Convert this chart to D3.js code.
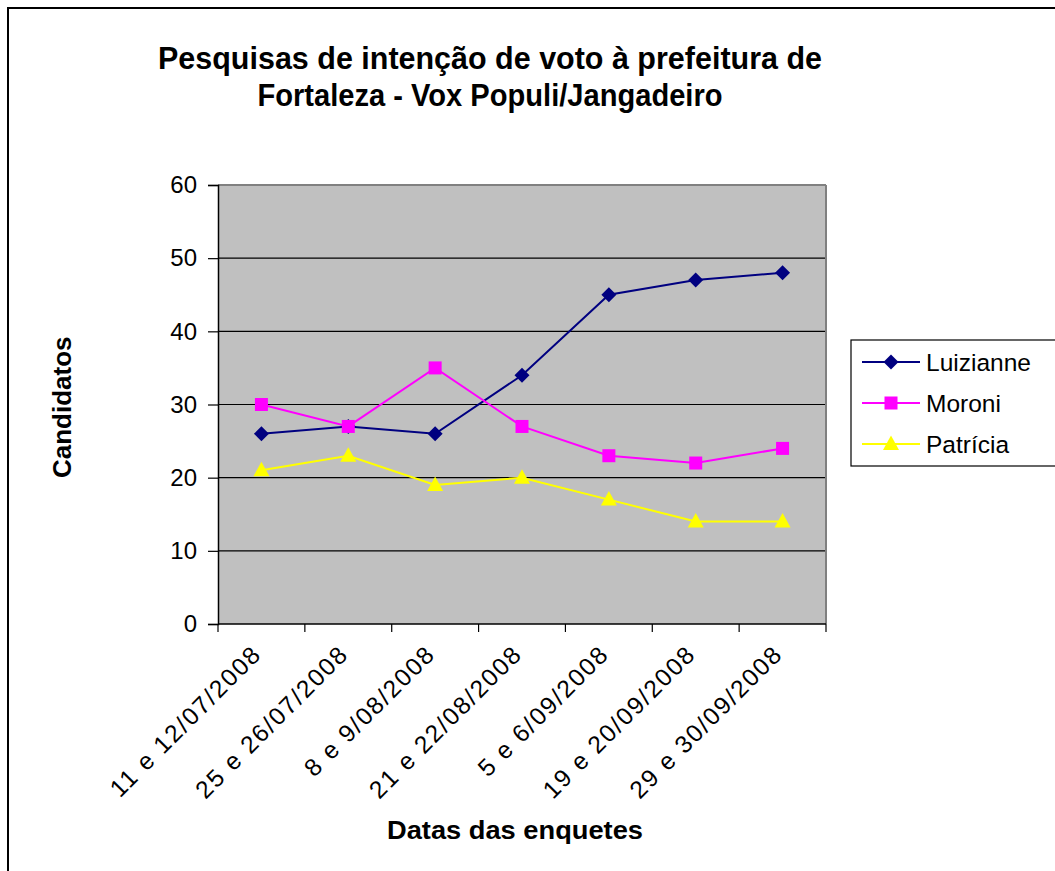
<!DOCTYPE html>
<html><head><meta charset="utf-8">
<script src="https://cdn.jsdelivr.net/npm/d3@7"></script>
<style>body{margin:0;background:#fff}svg{display:block}text{font-family:"Liberation Sans",Arial,sans-serif}</style>
</head><body>
<script>
const categories = ["11 e 12/07/2008","25 e 26/07/2008","8 e 9/08/2008","21 e 22/08/2008","5 e 6/09/2008","19 e 20/09/2008","29 e 30/09/2008"];
const luizianne = [26,27,26,34,45,47,48];
const moroni = [30,27,35,27,23,22,24];
const patricia = [21,23,19,20,17,14,14];
const yTicks = [0,10,20,30,40,50,60];
const seriesNames = ["Luizianne","Moroni","Patrícia"];
const titleLines = ["Pesquisas de intenção de voto à prefeitura de","Fortaleza - Vox Populi/Jangadeiro"];

const W=1055,H=871;
const svg=d3.select("body").append("svg").attr("width",W).attr("height",H);
svg.append("rect").attr("width",W).attr("height",H).attr("fill","#fff");
svg.append("path").attr("d",`M8,${H+5}V8H${W+5}`).attr("fill","none").attr("stroke","#000").attr("stroke-width",2);

const L=218,R=826,T=185,B=624;
const x=d3.scaleBand().domain(categories).range([L,R]);
const y=d3.scaleLinear().domain([0,60]).range([B,T]);

svg.append("rect").attr("x",L).attr("y",T).attr("width",R-L).attr("height",B-T).attr("fill","#c0c0c0");
svg.append("g").selectAll("line").data(yTicks.filter(v=>v>0&&v<60)).join("line")
 .attr("x1",L).attr("x2",R).attr("y1",d=>y(d)).attr("y2",d=>y(d)).attr("stroke","#000").attr("stroke-width",1.2);
svg.append("line").attr("x1",L).attr("x2",R).attr("y1",T).attr("y2",T).attr("stroke","#808080").attr("stroke-width",2);
svg.append("line").attr("x1",R).attr("x2",R).attr("y1",T).attr("y2",B).attr("stroke","#808080").attr("stroke-width",2);

const yAxis=svg.append("g").attr("transform",`translate(${L},0)`)
 .call(d3.axisLeft(y).tickValues(yTicks).tickSize(10).tickPadding(11));
yAxis.select(".domain").attr("stroke","#000").attr("stroke-width",1.5);
yAxis.selectAll(".tick line").attr("stroke","#000").attr("stroke-width",1.2);
yAxis.selectAll("text").attr("font-size",24).attr("fill","#000").attr("font-family","Liberation Sans, Arial, sans-serif");

const xTickPos=categories.map(c=>x(c)).concat([R]);
const xg=svg.append("g");
xg.append("line").attr("x1",L).attr("x2",R).attr("y1",B).attr("y2",B).attr("stroke","#000").attr("stroke-width",1.5);
xg.selectAll("line.t").data(xTickPos).join("line").attr("class","t")
 .attr("x1",d=>d).attr("x2",d=>d).attr("y1",B).attr("y2",B+8).attr("stroke","#000").attr("stroke-width",1.2);
xg.selectAll("text").data(categories).join("text")
 .attr("transform",d=>`translate(${x(d)+x.bandwidth()/2-3},${B+27}) rotate(-45)`)
 .attr("text-anchor","end").attr("dominant-baseline","middle").attr("font-size",24.5).attr("letter-spacing",1.8).attr("fill","#000").text(d=>d);

const series=[
 {name:seriesNames[0],values:luizianne,color:"#000080",shape:"diamond"},
 {name:seriesNames[1],values:moroni,color:"#ff00ff",shape:"square"},
 {name:seriesNames[2],values:patricia,color:"#ffff00",shape:"triangle"}];
const cx=c=>x(c)+x.bandwidth()/2;
const line=d3.line().x((d,i)=>cx(categories[i])).y(d=>y(d));
function marker(g,shape,color,px,py){
  if(shape==="diamond") g.append("path").attr("d",`M${px},${py-7.5}L${px+7.5},${py}L${px},${py+7.5}L${px-7.5},${py}Z`).attr("fill",color);
  else if(shape==="square") g.append("rect").attr("x",px-6.5).attr("y",py-6.5).attr("width",13).attr("height",13).attr("fill",color);
  else g.append("path").attr("d",`M${px},${py-8.5}L${px+8},${py+6}L${px-8},${py+6}Z`).attr("fill",color);
}
series.forEach(s=>{
  const g=svg.append("g");
  g.append("path").datum(s.values).attr("d",line).attr("fill","none").attr("stroke",s.color).attr("stroke-width",2);
  s.values.forEach((v,i)=>marker(g,s.shape,s.color,cx(categories[i]),y(v)));
});

const lg=svg.append("g");
lg.append("rect").attr("x",851).attr("y",340).attr("width",210).attr("height",126).attr("fill","#fff").attr("stroke","#000").attr("stroke-width",1.2);
series.forEach((s,i)=>{
  const ly=362+i*41;
  lg.append("line").attr("x1",862).attr("x2",920).attr("y1",ly).attr("y2",ly).attr("stroke",s.color).attr("stroke-width",2);
  marker(lg,s.shape,s.color,891,ly);
  lg.append("text").attr("x",926).attr("y",ly).attr("dominant-baseline","central").attr("font-size",24.5).attr("fill","#000").text(s.name);
});

titleLines.forEach((t,i)=>{
  svg.append("text").attr("x",490).attr("y",69+i*37).attr("text-anchor","middle")
   .attr("font-size",32).attr("font-weight","bold").attr("fill","#000").text(t)
   .attr("textLength",i===0?664:465).attr("lengthAdjust","spacingAndGlyphs");
});
svg.append("text").attr("x",515).attr("y",839).attr("text-anchor","middle").attr("font-size",26).attr("font-weight","bold")
 .attr("textLength",256).attr("lengthAdjust","spacingAndGlyphs").text("Datas das enquetes");
svg.append("clipPath").attr("id","yclip").append("rect").attr("x",0).attr("y",333).attr("width",200).attr("height",300);
svg.append("g").attr("clip-path","url(#yclip)")
 .append("text").attr("transform","translate(71,478) rotate(-90)").attr("text-anchor","start")
 .attr("font-size",26).attr("font-weight","bold").text("Candidatos");
</script>
</body></html>
